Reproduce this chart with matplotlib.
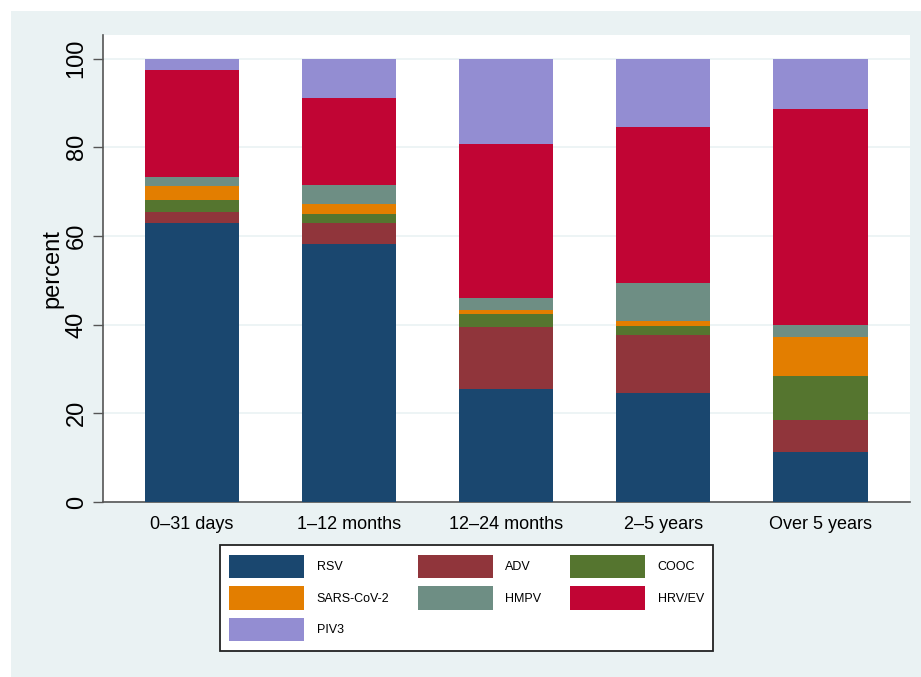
import numpy as np
import matplotlib
matplotlib.use('Agg')
import matplotlib.pyplot as plt
from matplotlib.patches import Rectangle, Patch

plt.rcParams['font.family'] = ['Liberation Sans', 'DejaVu Sans']

grupe = ['0–31 days', '1–12 months', '12–24 months', '2–5 years', 'Over 5 years']
virusi = ['RSV', 'ADV', 'COOC', 'SARS-CoV-2', 'HMPV', 'HRV/EV', 'PIV3']
boje = ['#1a476f', '#90353b', '#55752f', '#e37e00', '#6e8e84', '#c10534', '#938dd2']

rsv = [62.9, 58.2, 25.4, 24.5, 11.3]
adv = [2.5, 4.7, 14.1, 13.2, 7.1]
cooc = [2.6, 2.1, 2.8, 1.9, 10.0]
sars = [3.3, 2.3, 0.9, 1.2, 8.7]
hmpv = [2.0, 4.1, 2.7, 8.5, 2.8]
hrv = [24.0, 19.8, 34.8, 35.2, 48.7]
piv3 = [2.7, 8.8, 19.3, 15.5, 11.4]
podaci = [rsv, adv, cooc, sars, hmpv, hrv, piv3]

pozadina = '#eaf2f3'
fig = plt.figure(figsize=(9.21, 6.77), dpi=100, facecolor='white')
fig.patches.append(Rectangle((11/921, 0), 1 - 11/921, 1 - 11/677, transform=fig.transFigure,
                             facecolor=pozadina, edgecolor='none', zorder=-10))
ax = fig.add_axes([103/921, 1 - 502/677, (910 - 103)/921, (502 - 35)/677])
ax.set_facecolor('white')

x = np.arange(len(grupe))
dno = np.zeros(len(grupe))
for i in range(len(virusi)):
    ax.bar(x, podaci[i], 0.6, bottom=dno, color=boje[i], edgecolor='none', zorder=3)
    dno = dno + np.array(podaci[i])

ax.set_xlim(-0.567, 4.57)
ax.set_ylim(0, 105.3)
ax.set_yticks([0, 20, 40, 60, 80, 100])
ax.set_yticklabels(['0', '20', '40', '60', '80', '100'], rotation=90, va='center', fontsize=17)
ax.set_xticks(x)
ax.set_xticklabels(grupe, fontsize=13)
ax.tick_params(axis='x', length=0, pad=10)
ax.tick_params(axis='y', length=7, width=1, color='#555555', pad=4)
ax.yaxis.grid(True, color=pozadina, linewidth=1.2, zorder=0)
ax.set_axisbelow(True)
for s in ['top', 'right']:
    ax.spines[s].set_visible(False)
for s in ['left', 'bottom']:
    ax.spines[s].set_color('#555555')
    ax.spines[s].set_linewidth(1.2)
ax.set_ylabel('percent', fontsize=17, labelpad=2)

# redoslijed za legendu (matplotlib puni po stupcima)
red = [0, 3, 6, 1, 4, 2, 5]
ruke = [Patch(facecolor=boje[i], edgecolor='none') for i in red]
leg = fig.legend(ruke, [virusi[i] for i in red], ncol=3, loc='upper center',
                 bbox_to_anchor=(466.5/921, 1 - 539/677), fontsize=9,
                 handlelength=6, handleheight=2.53, handletextpad=1.0, columnspacing=2.3,
                 labelspacing=0.64, borderpad=0.75, fancybox=False, framealpha=1,
                 edgecolor='#222222', facecolor='white')
leg.get_frame().set_linewidth(1.3)

plt.savefig('out.png', dpi=100, facecolor=fig.get_facecolor())
